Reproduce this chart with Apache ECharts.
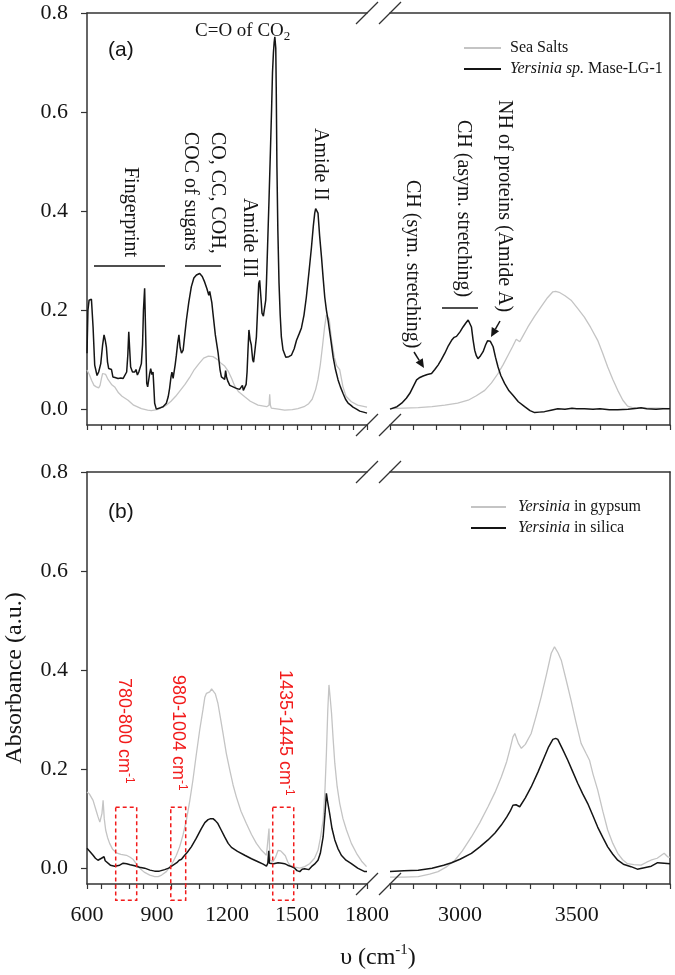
<!DOCTYPE html>
<html><head><meta charset="utf-8">
<script src="https://cdn.jsdelivr.net/npm/echarts@6/dist/echarts.min.js"></script>
<style>html,body{margin:0;padding:0;background:#fff}#c{width:675px;height:975px}</style>
</head><body><div id="c"></div>
<script>
// ---------- DATA (wavenumber cm-1, absorbance a.u.) ----------
const seaSaltsLow = [[600,0.079],[610,0.07],[620,0.058],[630,0.048],[640,0.045],[650,0.043],[656,0.048],[662,0.062],[667,0.072],[672,0.074],[680,0.07],[690,0.06],[705,0.05],[720,0.044],[735,0.033],[750,0.026],[776,0.018],[800,0.008],[833,0.001],[860,-0.002],[876,-0.003],[900,-0.001],[920,0.003],[940,0.008],[960,0.016],[980,0.026],[1000,0.038],[1020,0.05],[1040,0.064],[1060,0.08],[1080,0.092],[1100,0.103],[1120,0.107],[1140,0.106],[1160,0.1],[1176,0.092],[1190,0.087],[1205,0.077],[1220,0.062],[1233,0.047],[1250,0.035],[1276,0.025],[1300,0.016],[1333,0.008],[1370,0.005],[1380,0.008],[1383,0.03],[1386,0.008],[1390,0.002],[1420,0.0],[1447,-0.002],[1480,-0.001],[1504,0.001],[1530,0.005],[1550,0.011],[1565,0.02],[1580,0.04],[1590,0.06],[1600,0.09],[1610,0.13],[1618,0.165],[1626,0.19],[1632,0.192],[1638,0.182],[1648,0.14],[1660,0.105],[1670,0.088],[1683,0.08],[1690,0.076],[1697,0.045],[1710,0.026],[1733,0.015],[1760,0.008],[1800,0.004]];
const seaSaltsHigh = [[2700,0.001],[2760,0.002],[2821,0.003],[2880,0.005],[2935,0.008],[2990,0.012],[3035,0.018],[3070,0.027],[3106,0.038],[3135,0.053],[3163,0.072],[3185,0.09],[3206,0.109],[3225,0.126],[3241,0.141],[3248,0.142],[3256,0.136],[3270,0.148],[3291,0.166],[3320,0.188],[3348,0.207],[3375,0.225],[3398,0.237],[3410,0.238],[3425,0.236],[3450,0.229],[3476,0.22],[3505,0.203],[3533,0.186],[3560,0.165],[3590,0.139],[3610,0.115],[3633,0.085],[3655,0.06],[3676,0.038],[3698,0.018],[3718,0.006],[3740,0.003],[3760,0.003],[3800,0.002],[3850,0.002],[3900,0.001]];
const yersiniaLow = [[600,0.113],[604,0.2],[609,0.22],[614,0.224],[619,0.222],[626,0.166],[633,0.089],[643,0.068],[650,0.075],[659,0.092],[667,0.13],[673,0.15],[678,0.14],[683,0.126],[688,0.095],[693,0.082],[700,0.085],[705,0.08],[711,0.065],[720,0.064],[733,0.062],[745,0.063],[755,0.062],[762,0.066],[770,0.075],[775,0.11],[779,0.156],[783,0.12],[787,0.085],[795,0.075],[804,0.075],[810,0.08],[816,0.069],[822,0.075],[828,0.078],[833,0.092],[838,0.13],[842,0.2],[847,0.244],[851,0.16],[856,0.052],[860,0.045],[864,0.045],[868,0.07],[873,0.082],[878,0.07],[883,0.075],[887,0.04],[890,0.012],[897,0.0],[904,-0.002],[915,0.003],[926,0.005],[940,0.012],[948,0.025],[954,0.042],[960,0.065],[964,0.075],[969,0.062],[973,0.062],[978,0.09],[983,0.109],[989,0.135],[994,0.15],[999,0.125],[1005,0.113],[1012,0.119],[1019,0.15],[1026,0.18],[1036,0.215],[1047,0.247],[1058,0.265],[1069,0.271],[1083,0.274],[1094,0.268],[1104,0.257],[1114,0.243],[1122,0.23],[1126,0.238],[1130,0.24],[1135,0.215],[1140,0.193],[1150,0.15],[1162,0.113],[1170,0.08],[1176,0.065],[1183,0.062],[1190,0.06],[1194,0.078],[1198,0.065],[1204,0.056],[1212,0.048],[1226,0.045],[1240,0.042],[1254,0.04],[1262,0.042],[1266,0.048],[1270,0.038],[1276,0.035],[1282,0.05],[1286,0.075],[1290,0.12],[1294,0.16],[1299,0.14],[1304,0.13],[1310,0.1],[1314,0.095],[1320,0.12],[1326,0.146],[1331,0.2],[1336,0.254],[1340,0.26],[1343,0.262],[1347,0.215],[1350,0.194],[1356,0.188],[1362,0.19],[1366,0.22],[1369,0.254],[1374,0.33],[1380,0.422],[1386,0.52],[1391,0.604],[1395,0.68],[1399,0.72],[1402,0.74],[1405,0.752],[1409,0.729],[1411,0.65],[1414,0.489],[1418,0.36],[1423,0.254],[1428,0.19],[1433,0.146],[1440,0.12],[1452,0.105],[1465,0.106],[1476,0.109],[1488,0.122],[1498,0.139],[1510,0.153],[1519,0.164],[1530,0.19],[1540,0.226],[1552,0.28],[1562,0.327],[1570,0.37],[1576,0.396],[1580,0.405],[1583,0.408],[1587,0.403],[1590,0.396],[1597,0.35],[1605,0.307],[1612,0.265],[1619,0.226],[1626,0.2],[1633,0.18],[1645,0.14],[1655,0.105],[1665,0.08],[1676,0.059],[1686,0.045],[1697,0.032],[1708,0.02],[1719,0.012],[1730,0.008],[1740,0.004],[1755,0.0],[1769,-0.004],[1785,-0.006],[1800,-0.008]];
const yersiniaHigh = [[2700,0.0],[2730,0.005],[2750,0.012],[2770,0.022],[2785,0.032],[2800,0.046],[2814,0.059],[2828,0.064],[2842,0.067],[2860,0.07],[2878,0.072],[2892,0.08],[2906,0.089],[2920,0.1],[2935,0.113],[2950,0.128],[2964,0.139],[2975,0.145],[2985,0.147],[3000,0.156],[3013,0.166],[3025,0.174],[3035,0.18],[3042,0.176],[3049,0.166],[3056,0.14],[3063,0.119],[3070,0.108],[3077,0.102],[3088,0.108],[3099,0.116],[3110,0.13],[3118,0.138],[3123,0.139],[3130,0.137],[3142,0.126],[3152,0.105],[3163,0.085],[3175,0.068],[3191,0.052],[3210,0.037],[3227,0.028],[3250,0.015],[3277,0.005],[3300,-0.003],[3320,-0.007],[3340,-0.006],[3362,-0.005],[3390,-0.002],[3419,0.001],[3450,0.0],[3480,0.002],[3500,0.001],[3533,0.001],[3570,0.0],[3600,0.001],[3640,-0.001],[3676,-0.001],[3720,0.0],[3760,0.002],[3776,0.003],[3800,0.001],[3840,0.0],[3870,0.001],[3900,0.001]];
const gypsumLow = [[600,0.154],[610,0.15],[626,0.137],[640,0.115],[647,0.104],[655,0.093],[659,0.09],[664,0.11],[669,0.137],[674,0.1],[680,0.077],[688,0.062],[697,0.05],[710,0.038],[726,0.031],[745,0.028],[769,0.026],[785,0.022],[797,0.018],[812,0.008],[826,0.0],[845,-0.008],[869,-0.014],[890,-0.017],[905,-0.017],[920,-0.014],[940,-0.007],[955,0.002],[969,0.013],[983,0.026],[997,0.043],[1012,0.068],[1026,0.097],[1040,0.135],[1054,0.178],[1068,0.228],[1083,0.279],[1097,0.32],[1105,0.345],[1112,0.353],[1120,0.355],[1126,0.356],[1134,0.362],[1140,0.366],[1150,0.352],[1161,0.333],[1172,0.303],[1183,0.272],[1197,0.232],[1212,0.198],[1226,0.168],[1240,0.144],[1260,0.115],[1283,0.09],[1305,0.068],[1326,0.05],[1348,0.036],[1369,0.026],[1376,0.03],[1380,0.08],[1383,0.03],[1386,0.016],[1397,0.013],[1408,0.022],[1419,0.036],[1430,0.035],[1440,0.03],[1450,0.025],[1460,0.013],[1469,0.006],[1490,0.002],[1512,0.0],[1533,0.003],[1554,0.009],[1575,0.02],[1590,0.036],[1600,0.06],[1612,0.097],[1620,0.16],[1626,0.232],[1632,0.32],[1637,0.37],[1642,0.345],[1648,0.313],[1655,0.26],[1662,0.212],[1672,0.165],[1683,0.131],[1697,0.1],[1712,0.077],[1733,0.05],[1755,0.03],[1777,0.014],[1798,0.003]];
const gypsumHigh = [[2700,-0.018],[2760,-0.018],[2821,-0.017],[2870,-0.012],[2906,-0.007],[2940,0.002],[2978,0.016],[3010,0.035],[3049,0.063],[3085,0.092],[3120,0.124],[3150,0.153],[3177,0.184],[3200,0.215],[3215,0.242],[3227,0.265],[3235,0.272],[3241,0.269],[3250,0.252],[3263,0.242],[3280,0.25],[3305,0.272],[3325,0.305],[3348,0.346],[3370,0.39],[3391,0.434],[3405,0.447],[3420,0.435],[3434,0.42],[3455,0.38],[3476,0.339],[3497,0.295],[3519,0.252],[3540,0.232],[3555,0.218],[3570,0.19],[3590,0.158],[3612,0.115],[3633,0.077],[3655,0.05],[3676,0.03],[3697,0.017],[3718,0.009],[3745,0.007],[3776,0.006],[3800,0.012],[3818,0.016],[3845,0.02],[3875,0.03],[3890,0.023],[3900,0.022]];
const silicaLow = [[600,0.04],[605,0.036],[615,0.032],[626,0.026],[636,0.02],[647,0.016],[655,0.019],[662,0.02],[668,0.016],[673,0.023],[678,0.015],[683,0.011],[700,0.006],[719,0.004],[740,0.006],[755,0.01],[762,0.012],[770,0.009],[785,0.007],[804,0.005],[825,0.002],[847,0.0],[870,-0.004],[890,-0.006],[910,-0.006],[933,-0.003],[950,0.0],[969,0.006],[985,0.011],[995,0.016],[1000,0.014],[1005,0.018],[1015,0.024],[1030,0.032],[1047,0.043],[1068,0.06],[1090,0.08],[1105,0.092],[1119,0.098],[1130,0.1],[1140,0.1],[1150,0.096],[1161,0.09],[1175,0.077],[1190,0.063],[1205,0.05],[1219,0.042],[1245,0.034],[1276,0.026],[1305,0.019],[1333,0.013],[1355,0.008],[1369,0.004],[1375,0.01],[1379,0.035],[1382,0.01],[1386,0.006],[1400,0.009],[1419,0.011],[1435,0.01],[1447,0.009],[1460,0.006],[1476,0.003],[1490,0.0],[1500,-0.005],[1512,-0.007],[1522,-0.002],[1533,-0.001],[1540,-0.005],[1550,-0.003],[1562,0.003],[1575,0.008],[1590,0.016],[1600,0.03],[1612,0.063],[1620,0.11],[1626,0.151],[1631,0.135],[1640,0.11],[1650,0.08],[1662,0.057],[1675,0.04],[1690,0.026],[1710,0.016],[1733,0.009],[1760,0.0],[1790,-0.007],[1800,-0.007]];
const silicaHigh = [[2700,-0.007],[2760,-0.005],[2821,-0.004],[2880,0.0],[2930,0.006],[2964,0.011],[3000,0.018],[3049,0.03],[3085,0.043],[3120,0.057],[3150,0.071],[3177,0.087],[3200,0.103],[3215,0.115],[3227,0.127],[3240,0.128],[3256,0.124],[3280,0.142],[3305,0.164],[3335,0.195],[3362,0.225],[3380,0.245],[3398,0.26],[3410,0.262],[3419,0.26],[3440,0.24],[3462,0.218],[3483,0.195],[3505,0.171],[3526,0.15],[3547,0.131],[3568,0.108],[3590,0.083],[3612,0.062],[3633,0.043],[3655,0.028],[3676,0.016],[3700,0.008],[3733,0.003],[3760,-0.002],[3790,0.001],[3820,0.004],[3847,0.011],[3875,0.01],[3900,0.009]];
const yTicks = [0, 0.2, 0.4, 0.6, 0.8];
const xLowRange = [600, 1800];
const xHighRange = [2700, 3900];
const xHighLabels = [3000, 3500];
const yRange = [-0.032, 0.8];
const boxRanges = [[723, 813], [959, 1023], [1396, 1486]];
const boxY = [-0.065, 0.123];
const boxLabels = ['780-800 cm', '980-1004 cm', '1435-1445 cm'];
const nameSea = 'Sea Salts', nameYer = 'Yersinia sp. Mase-LG-1', nameGyp = 'Yersinia in gypsum', nameSil = 'Yersinia in silica';

// ---------- CHART ----------
const SERIF = '"Liberation Serif", "DejaVu Serif", serif';
const SANS = '"Liberation Sans", Arial, sans-serif';
const INK = '#151515', AX = '#333', GRAY = '#c4c4c4';
const chart = echarts.init(document.getElementById('c'), null, {renderer: 'canvas'});

const grids = [
  {left: 87, top: 13, width: 280, height: 412},
  {left: 390, top: 13, width: 280, height: 412},
  {left: 87, top: 472, width: 280, height: 412},
  {left: 390, top: 472, width: 280, height: 412}
];
const axLine = {show: true, onZero: false, lineStyle: {color: AX, width: 1.5}};
const labelFont = {fontFamily: SERIF, fontSize: 22, color: INK};

function bottomX(g, low, showLabels) {
  if (low) {
    return {type: 'value', gridIndex: g, position: 'bottom', min: xLowRange[0], max: xLowRange[1], interval: 300,
      axisLine: axLine, splitLine: {show: false},
      axisTick: {show: true, length: 5, lineStyle: {color: AX, width: 1.2}},
      minorTick: {show: true, splitNumber: 5, length: 5, lineStyle: {color: AX, width: 1.2}},
      axisLabel: Object.assign({show: showLabels, margin: 20, formatter: v => String(v)}, labelFont)};
  }
  return {type: 'value', gridIndex: g, position: 'bottom', min: xHighRange[0], max: xHighRange[1], interval: 100,
    axisLine: axLine, splitLine: {show: false},
    axisTick: {show: true, length: 5, lineStyle: {color: AX, width: 1.2}},
    axisLabel: Object.assign({show: showLabels, margin: 20, showMinLabel: true, showMaxLabel: true,
      formatter: v => (xHighLabels.indexOf(v) >= 0 ? String(v) : '')}, labelFont)};
}
function topX(g, low) {
  const r = low ? xLowRange : xHighRange;
  return {type: 'value', gridIndex: g, position: 'top', min: r[0], max: r[1],
    axisLine: axLine, axisTick: {show: false}, axisLabel: {show: false}, splitLine: {show: false}};
}
function leftY(g, withName) {
  const o = {type: 'value', gridIndex: g, position: 'left', min: yRange[0], max: yRange[1],
    axisLine: axLine, splitLine: {show: false},
    axisTick: {show: true, length: 6, customValues: yTicks, lineStyle: {color: AX, width: 1.2}},
    axisLabel: Object.assign({show: true, margin: 19, customValues: yTicks, formatter: v => v.toFixed(1)}, labelFont)};
  if (withName) {
    o.name = 'Absorbance (a.u.)';
    o.nameLocation = 'middle';
    o.nameGap = 60;
    o.nameTextStyle = {fontFamily: SERIF, fontSize: 24, color: INK};
  }
  return o;
}
function rightY(g) {
  return {type: 'value', gridIndex: g, position: 'right', min: yRange[0], max: yRange[1],
    axisLine: axLine, axisTick: {show: false}, axisLabel: {show: false}, splitLine: {show: false}};
}

function line(name, data, xi, yi, color, w, z) {
  return {type: 'line', name, data, xAxisIndex: xi, yAxisIndex: yi, showSymbol: false, symbol: 'none',
    lineStyle: {color, width: w}, itemStyle: {color}, z: z, animation: false, silent: true};
}

const legendText = {fontFamily: SERIF, fontSize: 16, color: INK, lineHeight: 16,
  rich: {i: {fontStyle: 'italic', fontFamily: SERIF, fontSize: 16, color: INK}}};
function legendFmt(n) {
  if (n === nameYer) return '{i|Yersinia sp.} Mase-LG-1';
  if (n === nameGyp) return '{i|Yersinia} in gypsum';
  if (n === nameSil) return '{i|Yersinia} in silica';
  return n;
}
const legendCommon = {orient: 'vertical', itemHeight: 12, itemGap: 5, selectedMode: false, formatter: legendFmt,
  itemStyle: {opacity: 0, borderWidth: 0}, lineStyle: {inactiveWidth: 0}};

chart.setOption({
  animation: false,
  backgroundColor: '#fff',
  grid: grids,
  xAxis: [bottomX(0, true, false), bottomX(1, false, false), bottomX(2, true, true), bottomX(3, false, true),
          topX(0, true), topX(1, false), topX(2, true), topX(3, false)],
  yAxis: [leftY(0, false), rightY(1), leftY(2, true), rightY(3)],
  legend: [
    Object.assign({data: [nameSea, nameYer], left: 458, top: 35, itemWidth: 37,
     textStyle: Object.assign({padding: [0, 0, 0, 4]}, legendText)}, legendCommon),
    Object.assign({data: [nameGyp, nameSil], left: 465, top: 494, itemWidth: 35,
     textStyle: Object.assign({padding: [0, 0, 0, 7]}, legendText)}, legendCommon)
  ],
  series: [
    line(nameSea, seaSaltsLow, 0, 0, GRAY, 1.3, 2),
    line(nameSea, seaSaltsHigh, 1, 1, GRAY, 1.3, 2),
    line(nameYer, yersiniaLow, 0, 0, INK, 1.5, 3),
    line(nameYer, yersiniaHigh, 1, 1, INK, 1.5, 3),
    line(nameGyp, gypsumLow, 2, 2, GRAY, 1.3, 2),
    line(nameGyp, gypsumHigh, 3, 3, GRAY, 1.3, 2),
    line(nameSil, silicaLow, 2, 2, INK, 1.5, 3),
    line(nameSil, silicaHigh, 3, 3, INK, 1.5, 3)
  ]
});

// ---------- ANNOTATIONS ----------
const g = [];
const ROT = -Math.PI / 2;
function vtext(x, y, text, opts) {
  g.push({type: 'text', x, y, rotation: ROT, z: 100,
    style: Object.assign({text, fontFamily: SERIF, fontSize: 20, fill: INK, align: 'left', verticalAlign: 'middle'}, opts || {})});
}
function htext(x, y, text, opts) {
  g.push({type: 'text', x, y, z: 100,
    style: Object.assign({text, fontFamily: SERIF, fontSize: 20, fill: INK, align: 'left', verticalAlign: 'middle'}, opts || {})});
}
function seg(x1, y1, x2, y2, w, color) {
  g.push({type: 'line', z: 100, shape: {x1, y1, x2, y2}, style: {stroke: color || INK, lineWidth: w || 1.5}});
}
function arrow(x1, y1, x2, y2) {
  const a = Math.atan2(y2 - y1, x2 - x1), L = 9, W = 4.2;
  const bx = x2 - L * Math.cos(a), by = y2 - L * Math.sin(a);
  const px = -Math.sin(a) * W, py = Math.cos(a) * W;
  seg(x1, y1, bx, by, 1.5);
  g.push({type: 'polygon', z: 100, shape: {points: [[x2, y2], [bx + px, by + py], [bx - px, by - py]]}, style: {fill: INK}});
}

// panel labels
htext(108, 50, '(a)', {fontFamily: SANS, fontSize: 21});
htext(108, 512, '(b)', {fontFamily: SANS, fontSize: 21});
// C=O of CO2
g.push({type: 'text', x: 195, y: 31, z: 100, style: {text: '{n|C=O of CO}{s|2}', align: 'left', verticalAlign: 'middle',
  rich: {n: {fontFamily: SERIF, fontSize: 19, fill: INK, lineHeight: 24, verticalAlign: 'middle'},
         s: {fontFamily: SERIF, fontSize: 13, fill: INK, lineHeight: 13, verticalAlign: 'bottom'}}}});
// rotated band labels
vtext(130.5, 167, 'Fingerprint');
seg(94, 266, 165, 266, 1.6);
vtext(204, 132, 'CO, CC, COH,\nCOC of sugars', {lineHeight: 27});
seg(185, 266, 221, 266, 1.6);
vtext(249.5, 198, 'Amide III');
vtext(320, 128, 'Amide II');
vtext(412, 180, 'CH (sym. stretching)');
arrow(414, 352, 424, 368);
vtext(463, 120, 'CH (asym. stretching)');
seg(442, 308, 478, 308, 1.6);
vtext(504.5, 100, 'NH of proteins (Amide A)');
arrow(500, 321, 491, 337);
// x axis title
g.push({type: 'text', x: 378, y: 958, z: 100, style: {text: '{a|υ (cm}{s|-1}{a|)}', align: 'center', verticalAlign: 'middle',
  rich: {a: {fontFamily: SERIF, fontSize: 24, fill: INK, lineHeight: 30, verticalAlign: 'middle'},
         s: {fontFamily: SERIF, fontSize: 15, fill: INK, lineHeight: 15, verticalAlign: 'top'}}}});

// red dashed boxes + labels (placed through axis scales)
const RED = '#f21b1b';
const labelX = [124, 177.5, 284.5], labelY = [678, 675, 670];
boxRanges.forEach((r, i) => {
  const p1 = chart.convertToPixel({xAxisIndex: 2, yAxisIndex: 2}, [r[0], boxY[1]]);
  const p2 = chart.convertToPixel({xAxisIndex: 2, yAxisIndex: 2}, [r[1], boxY[0]]);
  g.push({type: 'rect', z: 100, shape: {x: p1[0], y: p1[1], width: p2[0] - p1[0], height: p2[1] - p1[1]},
    style: {fill: 'none', stroke: RED, lineWidth: 1.5, lineDash: [4, 3]}});
  g.push({type: 'text', x: labelX[i], y: labelY[i], rotation: ROT, z: 100,
    style: {text: '{t|' + boxLabels[i] + '}{s|-1}', align: 'left', verticalAlign: 'middle',
      rich: {t: {fontFamily: SANS, fontSize: 18, fill: RED, lineHeight: 22, verticalAlign: 'middle'},
             s: {fontFamily: SANS, fontSize: 12, fill: RED, lineHeight: 12, verticalAlign: 'top'}}}});
});

// axis break marks
[[0, 1], [2, 3]].forEach(([gl, gr]) => {
  const lt = chart.convertToPixel({xAxisIndex: gl, yAxisIndex: gl}, [xLowRange[1], yRange[1]]);
  const lb = chart.convertToPixel({xAxisIndex: gl, yAxisIndex: gl}, [xLowRange[1], yRange[0]]);
  const rt = chart.convertToPixel({xAxisIndex: gr, yAxisIndex: gr}, [xHighRange[0], yRange[1]]);
  const rb = chart.convertToPixel({xAxisIndex: gr, yAxisIndex: gr}, [xHighRange[0], yRange[0]]);
  [lt, lb, rt, rb].forEach(p => seg(p[0] - 11, p[1] + 11, p[0] + 11, p[1] - 11, 1.3, AX));
});

chart.setOption({graphic: {elements: g}});
</script></body></html>
